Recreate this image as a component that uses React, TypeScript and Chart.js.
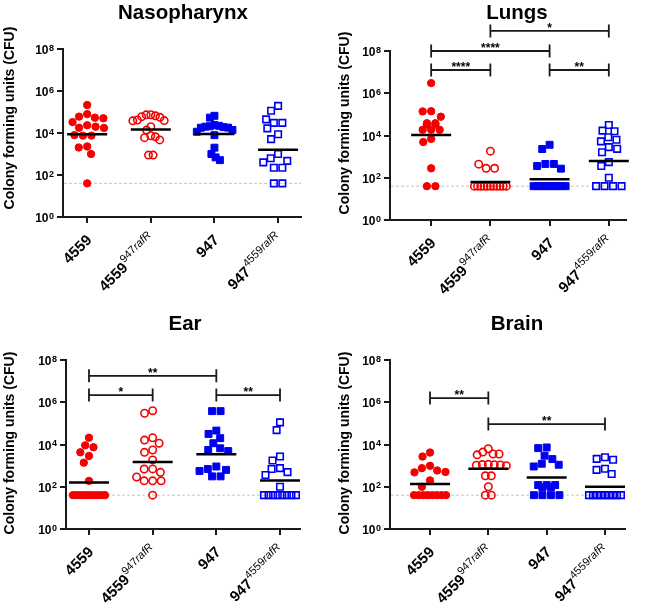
import React, { useEffect, useRef } from 'react';
import { Chart, registerables } from 'chart.js';
Chart.register(...registerables);

// ---------------- data ----------------
const LOD = 40;
const groupBase = ['4559', '4559', '947', '947'];
const groupSup = ['', '947', '', '4559'];
const groupSupItalic = ['', 'rafR', '', 'rafR'];
const yTickExponents = [0, 2, 4, 6, 8];

// Nasopharynx
const naso4559 = [214000, 79400, 53700, 50100, 60300, 33100, 17800, 23400, 17400, 20000, 7940, 7500, 7500, 2040, 2290, 1000, 40];
const naso4559r = [56000, 74000, 66000, 73000, 60000, 39000, 38000, 41700, 20000, 13800, 7400, 6000, 4700, 6600, 890, 890];
const naso947 = [66000, 54000, 22000, 20000, 18000, 21000, 19000, 24000, 17800, 14000, 7900, 11500, 2000, 1000, 690, 510];
const naso947r = [195000, 115000, 44700, 30200, 30200, 16600, 8710, 5130, 1000, 470, 400, 630, 220, 220, 40, 40];
const nasoMeans = [8700, 14800, 8900, 1580];
const nasoBrackets: [number, number, number, string][] = [];

// Lungs
const lung4559 = [3020000, 141000, 77600, 138000, 38000, 33100, 18600, 18600, 18600, 33100, 38000, 4900, 6920, 280, 40, 40];
const lung4559r = [1820, 280, 280, 440, 40, 40, 40, 40, 40, 40, 40, 40, 40, 40, 40];
const lung947 = [3630, 2290, 450, 360, 270, 450, 40, 40, 40, 40, 40, 40, 40, 40, 40, 40];
const lung947r = [31600, 15800, 17000, 6310, 8320, 2820, 5250, 1620, 2340, 550, 360, 100, 40, 40, 40, 40];
const lungMeans = [10700, 63, 85, 620];
const lungBrackets: [number, number, number, string][] = [
  [0, 1, 1.26e7, '****'],
  [0, 2, 1e8, '****'],
  [1, 3, 8.9e8, '*'],
  [2, 3, 1.26e7, '**'],
];

// Ear
const ear4559 = [20900, 9120, 7410, 4270, 2880, 1380, 190, 40, 40, 40, 40, 40, 40, 40, 40, 40, 40];
const ear4559r = [398000, 302000, 16200, 20900, 11500, 5500, 4270, 1860, 690, 700, 480, 290, 190, 190, 190, 40];
const ear947 = [380000, 380000, 45700, 31600, 20000, 11500, 5500, 4900, 6610, 910, 630, 310, 310, 690, 560];
const ear947r = [112000, 47900, 1740, 2690, 760, 490, 360, 690, 100, 40, 40, 40, 40, 40, 40, 40, 40];
const earMeans = [160, 1480, 3470, 195];
const earBrackets: [number, number, number, string][] = [
  [0, 2, 1.78e7, '**'],
  [0, 1, 2.19e6, '*'],
  [2, 3, 2.19e6, '**'],
];

// Brain
const brain4559 = [4170, 2690, 590, 760, 980, 480, 500, 200, 100, 40, 40, 40, 40, 40, 40, 40, 40];
const brain4559r = [6310, 3550, 4370, 3240, 3560, 1100, 1150, 1080, 1120, 1050, 1000, 330, 330, 100, 40, 40];
const brain947 = [7240, 6760, 2950, 2040, 1100, 910, 1230, 120, 120, 120, 93, 93, 40, 40, 40, 40];
const brain947r = [2510, 1900, 2090, 710, 400, 630, 40, 40, 40, 40, 40, 40, 40, 40, 40];
const brainMeans = [135, 710, 275, 100];
const brainBrackets: [number, number, number, string][] = [
  [0, 1, 1.58e6, '**'],
  [1, 3, 9.3e4, '**'],
];

// ---------------- styles / layout ----------------
const RED = '#f50000';
const BLUE = '#0000f0';
const FONT = '"Liberation Sans", Arial, sans-serif';
const groupStyle = [
  { color: RED, shape: 'circle', filled: true },
  { color: RED, shape: 'circle', filled: false },
  { color: BLUE, shape: 'rect', filled: true },
  { color: BLUE, shape: 'rect', filled: false },
];

type PanelCfg = {
  title: string;
  groups: number[][];
  means: number[];
  brackets: [number, number, number, string][];
  x: number; y: number; w: number; h: number;
  area: { left: number; right: number; top: number; bottom: number };
  xMin: number; xMax: number;
  titlePos: [number, number];
  yTitlePos: [number, number];
};

const panels: PanelCfg[] = [
  {
    title: 'Nasopharynx', groups: [naso4559, naso4559r, naso947, naso947r], means: nasoMeans, brackets: nasoBrackets,
    x: 0, y: 0, w: 325, h: 300, area: { left: 63, right: 301, top: 49, bottom: 217 }, xMin: 0.62, xMax: 4.36,
    titlePos: [183, 13], yTitlePos: [10, 118],
  },
  {
    title: 'Lungs', groups: [lung4559, lung4559r, lung947, lung947r], means: lungMeans, brackets: lungBrackets,
    x: 325, y: 0, w: 325, h: 300, area: { left: 65, right: 301, top: 51, bottom: 220 }, xMin: 0.305, xMax: 4.29,
    titlePos: [192, 13], yTitlePos: [20, 123],
  },
  {
    title: 'Ear', groups: [ear4559, ear4559r, ear947, ear947r], means: earMeans, brackets: earBrackets,
    x: 0, y: 300, w: 325, h: 305, area: { left: 66, right: 300, top: 60, bottom: 229 }, xMin: 0.639, xMax: 4.314,
    titlePos: [185, 24], yTitlePos: [10, 143],
  },
  {
    title: 'Brain', groups: [brain4559, brain4559r, brain947, brain947r], means: brainMeans, brackets: brainBrackets,
    x: 325, y: 300, w: 325, h: 305, area: { left: 65, right: 300, top: 60, bottom: 229 }, xMin: 0.314, xMax: 4.343,
    titlePos: [192, 24], yTitlePos: [20, 143],
  },
];

// beeswarm-like horizontal spreading (in px), computed from values
function swarmOffsets(values: number[], pxPerDecade: number, d: number, rowHalf: number, maxHalf: number): number[] {
  const n = values.length;
  const ys = values.map((v) => Math.log10(v) * pxPerDecade);
  const off = new Array(n).fill(0);
  const done = new Array(n).fill(false);
  const placed: number[] = [];
  const byVal = new Map<number, number[]>();
  values.forEach((v, i) => {
    const a = byVal.get(v) || [];
    a.push(i);
    byVal.set(v, a);
  });
  byVal.forEach((idx) => {
    if (idx.length < 2) return;
    const s = Math.min(d, (2 * rowHalf) / (idx.length - 1));
    idx.forEach((i, k) => {
      off[i] = (k - (idx.length - 1) / 2) * s;
      done[i] = true;
      placed.push(i);
    });
  });
  const order = values.map((_, i) => i).filter((i) => !done[i]).sort((a, b) => ys[b] - ys[a]);
  for (const i of order) {
    const cands = [0];
    for (const j of placed) {
      const dy = ys[i] - ys[j];
      if (Math.abs(dy) < d) {
        const dx = Math.sqrt(d * d - dy * dy);
        cands.push(off[j] - dx, off[j] + dx);
      }
    }
    cands.sort((a, b) => Math.abs(a) - Math.abs(b));
    let chosen = 0;
    for (const c of cands) {
      const ok = placed.every((j) => {
        const dy = ys[i] - ys[j];
        const dx = c - off[j];
        return dx * dx + dy * dy >= d * d - 0.01;
      });
      if (ok) { chosen = c; break; }
    }
    off[i] = chosen;
    placed.push(i);
  }
  const widest = Math.max(...off.map((o) => Math.abs(o)));
  if (widest > maxHalf) {
    const k = maxHalf / widest;
    return off.map((o) => o * k);
  }
  return off;
}

function makePlugin(cfg: PanelCfg) {
  return {
    id: 'panelDecor',
    beforeDatasetsDraw(chart: any) {
      const { ctx, chartArea: a, scales } = chart;
      const yy = scales.y.getPixelForValue(LOD);
      ctx.save();
      ctx.strokeStyle = '#c4c4c4';
      ctx.lineWidth = 1;
      ctx.setLineDash([3, 2]);
      ctx.beginPath();
      ctx.moveTo(a.left + 1, yy);
      ctx.lineTo(a.right, yy);
      ctx.stroke();
      ctx.restore();
    },
    afterDatasetsDraw(chart: any) {
      const { ctx, scales } = chart;
      ctx.save();
      ctx.strokeStyle = '#000';
      ctx.lineWidth = 2.5;
      cfg.means.forEach((m, i) => {
        const px = scales.x.getPixelForValue(i + 1);
        const py = scales.y.getPixelForValue(m);
        ctx.beginPath();
        ctx.moveTo(px - 20, py);
        ctx.lineTo(px + 20, py);
        ctx.stroke();
      });
      ctx.restore();
    },
    afterDraw(chart: any) {
      const { ctx, chartArea: a, scales } = chart;
      const xs = scales.x;
      const ysc = scales.y;
      ctx.save();
      ctx.fillStyle = '#000';
      // title
      ctx.font = `bold 20.5px ${FONT}`;
      ctx.textAlign = 'center';
      ctx.textBaseline = 'middle';
      ctx.fillText(cfg.title, cfg.titlePos[0], cfg.titlePos[1]);
      // y axis title
      ctx.save();
      ctx.translate(cfg.yTitlePos[0], cfg.yTitlePos[1]);
      ctx.rotate(-Math.PI / 2);
      ctx.font = `bold 14px ${FONT}`;
      ctx.fillText('Colony forming units (CFU)', 0, 0);
      ctx.restore();
      // y tick labels
      ctx.textAlign = 'left';
      ctx.textBaseline = 'alphabetic';
      for (const e of yTickExponents) {
        const py = ysc.getPixelForValue(Math.pow(10, e));
        const right = a.left - 9;
        ctx.font = `bold 9px ${FONT}`;
        const we = ctx.measureText(String(e)).width;
        ctx.font = `bold 12px ${FONT}`;
        const wb = ctx.measureText('10').width;
        ctx.fillText('10', right - we - wb - 0.5, py + 5);
        ctx.font = `bold 9px ${FONT}`;
        ctx.fillText(String(e), right - we, py + 1.5);
      }
      // x labels (rotated, with superscripts)
      for (let i = 0; i < groupBase.length; i++) {
        const px = xs.getPixelForValue(i + 1);
        ctx.save();
        ctx.translate(px + 1.5, a.bottom + 20);
        ctx.rotate(-Math.PI / 4);
        const bf = `bold 15px ${FONT}`;
        const sf = `11px ${FONT}`;
        const sif = `italic 11px ${FONT}`;
        ctx.font = bf;
        const wb = ctx.measureText(groupBase[i]).width;
        ctx.font = sf;
        const ws = ctx.measureText(groupSup[i]).width;
        ctx.font = sif;
        const wi = ctx.measureText(groupSupItalic[i]).width;
        const W = wb + ws + wi;
        ctx.font = bf;
        ctx.fillText(groupBase[i], -W, 5.5);
        ctx.font = sf;
        ctx.fillText(groupSup[i], -W + wb + 0.5, -1.5);
        ctx.font = sif;
        ctx.fillText(groupSupItalic[i], -W + wb + ws + 0.5, -1.5);
        ctx.restore();
      }
      // significance brackets
      ctx.strokeStyle = '#1a1a1a';
      ctx.lineWidth = 1.8;
      ctx.textAlign = 'center';
      ctx.textBaseline = 'alphabetic';
      ctx.font = `bold 12px ${FONT}`;
      for (const [g1, g2, level, label] of cfg.brackets) {
        const x1 = xs.getPixelForValue(g1 + 1);
        const x2 = xs.getPixelForValue(g2 + 1);
        const yy = ysc.getPixelForValue(level);
        ctx.beginPath();
        ctx.moveTo(x1, yy);
        ctx.lineTo(x2, yy);
        ctx.moveTo(x1, yy - 6.5);
        ctx.lineTo(x1, yy + 6.5);
        ctx.moveTo(x2, yy - 6.5);
        ctx.lineTo(x2, yy + 6.5);
        ctx.stroke();
        ctx.fillText(label, (x1 + x2) / 2, yy + 1);
      }
      ctx.restore();
    },
  };
}

function Panel({ cfg }: { cfg: PanelCfg }) {
  const ref = useRef<HTMLCanvasElement>(null);
  useEffect(() => {
    const { area } = cfg;
    const pxPerDecade = (area.bottom - area.top) / 8;
    const pxPerUnit = (area.right - area.left) / (cfg.xMax - cfg.xMin);
    const datasets = cfg.groups.map((vals, gi) => {
      const st = groupStyle[gi];
      const offs = swarmOffsets(vals, pxPerDecade, 8.5, 16, 18);
      return {
        label: groupBase[gi] + groupSup[gi] + groupSupItalic[gi],
        data: vals.map((v, k) => ({ x: gi + 1 + offs[k] / pxPerUnit, y: v })),
        pointStyle: st.shape,
        pointRadius: st.shape === 'rect' ? (st.filled ? 4.9 : 4.6) : 3.7,
        pointBorderWidth: st.filled ? 1 : 1.6,
        pointBackgroundColor: st.filled ? st.color : 'rgba(0,0,0,0)',
        pointBorderColor: st.color,
        showLine: false,
      };
    });
    const gridCommon = {
      display: true,
      drawOnChartArea: false,
      drawTicks: true,
      tickLength: 6,
      color: '#1a1a1a',
      lineWidth: 2,
    };
    const chart = new Chart(ref.current as HTMLCanvasElement, {
      type: 'scatter',
      data: { datasets: datasets as any },
      options: {
        responsive: false,
        animation: false,
        events: [],
        layout: {
          padding: {
            left: area.left - 6,
            right: cfg.w - area.right,
            top: area.top,
            bottom: cfg.h - area.bottom - 6,
          },
        },
        plugins: { legend: { display: false }, tooltip: { enabled: false }, title: { display: false } },
        scales: {
          x: {
            type: 'linear',
            min: cfg.xMin,
            max: cfg.xMax,
            afterBuildTicks: (s: any) => { s.ticks = [1, 2, 3, 4].map((v) => ({ value: v })); },
            afterFit: (s: any) => { s.height = 6; },
            grid: gridCommon,
            border: { display: true, color: '#1a1a1a', width: 2 },
            ticks: { display: false },
          },
          y: {
            type: 'logarithmic',
            min: 1,
            max: 1e8,
            afterBuildTicks: (s: any) => { s.ticks = yTickExponents.map((e) => ({ value: Math.pow(10, e) })); },
            afterFit: (s: any) => { s.width = 6; },
            grid: gridCommon,
            border: { display: true, color: '#1a1a1a', width: 2 },
            ticks: { display: false },
          },
        },
      } as any,
      plugins: [makePlugin(cfg)],
    });
    return () => chart.destroy();
  }, [cfg]);
  return (
    <canvas
      ref={ref}
      width={cfg.w}
      height={cfg.h}
      style={{ position: 'absolute', left: cfg.x, top: cfg.y, width: cfg.w, height: cfg.h }}
    />
  );
}

export default function App() {
  return (
    <div style={{ position: 'fixed', left: 0, top: 0, width: 650, height: 605, background: '#fff' }}>
      {panels.map((p) => (
        <Panel key={p.title} cfg={p} />
      ))}
    </div>
  );
}
